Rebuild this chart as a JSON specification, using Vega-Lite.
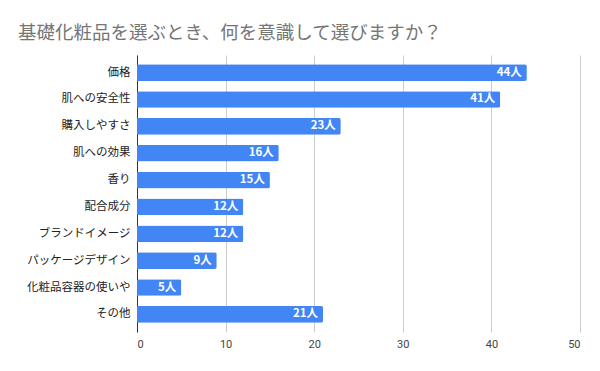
{
  "$schema": "https://vega.github.io/schema/vega-lite/v6.json",
  "autosize": "none",
  "width": 443,
  "height": 277,
  "padding": {"left": 137, "top": 55, "right": 20, "bottom": 39},
  "background": "white",
  "title": {
    "text": "基礎化粧品を選ぶとき、何を意識して選びますか？",
    "anchor": "start",
    "frame": "group",
    "dx": -119,
    "offset": 13,
    "font": "Noto Sans CJK JP",
    "fontSize": 18.5,
    "fontWeight": "normal",
    "color": "#757575"
  },
  "data": {
    "values": [
      {"item": "価格", "count": 44, "label": "44人"},
      {"item": "肌への安全性", "count": 41, "label": "41人"},
      {"item": "購入しやすさ", "count": 23, "label": "23人"},
      {"item": "肌への効果", "count": 16, "label": "16人"},
      {"item": "香り", "count": 15, "label": "15人"},
      {"item": "配合成分", "count": 12, "label": "12人"},
      {"item": "ブランドイメージ", "count": 12, "label": "12人"},
      {"item": "パッケージデザイン", "count": 9, "label": "9人"},
      {"item": "化粧品容器の使いや", "count": 5, "label": "5人"},
      {"item": "その他", "count": 21, "label": "21人"}
    ]
  },
  "encoding": {
    "y": {
      "field": "item",
      "type": "nominal",
      "sort": null,
      "scale": {"paddingInner": 0.378, "paddingOuter": 0.345},
      "axis": {
        "title": null,
        "ticks": false,
        "domainColor": "#333333",
        "domainWidth": 1,
        "labelFont": "Noto Sans CJK JP",
        "labelFontSize": 11.5,
        "labelColor": "#222222",
        "labelPadding": 7,
        "labelLimit": 200
      }
    },
    "x": {
      "field": "count",
      "type": "quantitative",
      "scale": {"domain": [0, 50], "nice": false},
      "axis": {
        "title": null,
        "values": [0, 10, 20, 30, 40, 50],
        "ticks": false,
        "domain": false,
        "gridColor": "#cccccc",
        "labelFont": "Roboto",
        "labelFontSize": 11,
        "labelColor": "#444444",
        "labelPadding": 6
      }
    }
  },
  "layer": [
    {
      "mark": {"type": "bar", "color": "#4285F4", "cornerRadiusEnd": 2}
    },
    {
      "mark": {
        "type": "text",
        "align": "right",
        "baseline": "middle",
        "dx": -5,
        "color": "white",
        "font": "Noto Sans CJK JP",
        "fontSize": 11.5,
        "fontWeight": "bold"
      },
      "encoding": {"text": {"field": "label"}}
    }
  ],
  "config": {"view": {"stroke": null}}
}
